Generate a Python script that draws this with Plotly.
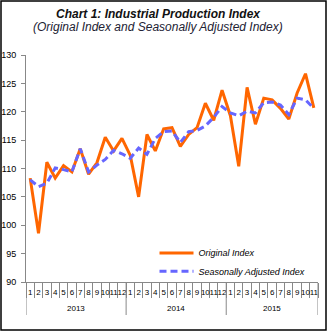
import plotly.graph_objects as go

# Monthly categories, grouped by year
year_names = ["2013", "2014", "2015"]
months_per_year = [12, 12, 11]
years = [y for y, n in zip(year_names, months_per_year) for _ in range(n)]
months = [str(m) for n in months_per_year for m in range(1, n + 1)]
periods = [f"{y}-{m}" for y, m in zip(years, months)]

original_index = [108.3, 98.6, 111.1, 108.3, 110.5, 109.4, 113.5, 109.0, 111.0, 115.5, 113.1, 115.3,
                  112.3, 105.0, 116.0, 113.1, 117.0, 117.2, 113.9, 116.0, 117.2, 121.5, 118.5, 123.8,
                  119.3, 110.4, 124.3, 117.8, 122.4, 122.1, 120.6, 118.7, 123.3, 126.7, 120.7]
adjusted_index = [108.0, 106.8, 107.4, 110.1, 109.8, 109.4, 113.5, 109.4, 110.6, 111.6, 113.2, 112.6,
                  111.8, 113.6, 112.5, 115.3, 116.5, 116.6, 114.6, 116.5, 116.7, 117.5, 119.0, 120.9,
                  119.8, 119.3, 120.1, 119.8, 121.6, 121.7, 121.2, 119.5, 122.4, 122.1, 120.6]

y_ticks = [90, 95, 100, 105, 110, 115, 120, 125, 130]

FONT = "Liberation Sans, Arial, sans-serif"
W, H = 328, 336
ML, MR, MT, MB = 26, 10, 55, 54
pw = W - ML - MR
ph = H - MT - MB


def px_x(px):
    return (px - ML) / pw


def px_y(px):
    return (H - MB - px) / ph


fig = go.Figure()
fig.add_trace(go.Scatter(
    x=periods, y=original_index, name="Original Index", mode="lines",
    line=dict(color="#FF6600", width=3), legend="legend",
))
fig.add_trace(go.Scatter(
    x=periods, y=adjusted_index, name="Seasonally Adjusted Index", mode="lines",
    line=dict(color="#6666FF", width=3, dash="7px,4px"), legend="legend2",
))

# year group labels and dividers below the month labels
start = 0
bounds = [-0.5]
for name, n in zip(year_names, months_per_year):
    fig.add_annotation(text=name, xref="x", yref="paper", x=start + (n - 1) / 2, y=px_y(308),
                       showarrow=False, yanchor="middle", font=dict(family=FONT, size=8, color="black"))
    start += n
    bounds.append(start - 0.5)
for b in bounds:
    fig.add_shape(type="line", xref="x", yref="paper", x0=b, x1=b, y0=0, y1=px_y(315),
                  line=dict(color="#888888", width=1))

# outer chart frame
fig.add_shape(type="rect", xref="paper", yref="paper",
              x0=px_x(1), x1=px_x(326), y0=px_y(330), y1=px_y(1),
              line=dict(color="black", width=1.5), fillcolor="rgba(0,0,0,0)", layer="above")

fig.add_annotation(text="<b><i>Chart 1: Industrial Production Index</i></b>",
                   xref="paper", yref="paper", x=px_x(158), y=px_y(14), xanchor="center", yanchor="middle",
                   showarrow=False, font=dict(family=FONT, size=12, color="#111111"))
fig.add_annotation(text="<i>(Original Index and Seasonally Adjusted Index)</i>",
                   xref="paper", yref="paper", x=px_x(158), y=px_y(27), xanchor="center", yanchor="middle",
                   showarrow=False, font=dict(family=FONT, size=12, color="#222233"))

legend_style = dict(xanchor="left", yanchor="top", bgcolor="rgba(0,0,0,0)",
                    font=dict(family=FONT, size=9, style="italic"), itemwidth=34)
fig.update_layout(
    width=W, height=H,
    margin=dict(l=ML, r=MR, t=MT, b=MB, autoexpand=False),
    paper_bgcolor="white", plot_bgcolor="white",
    font=dict(family=FONT, color="black"),
    showlegend=True,
    legend=dict(x=px_x(154.5), y=px_y(238.4), **legend_style),
    legend2=dict(x=px_x(154.5), y=px_y(256.7), **legend_style),
    xaxis=dict(
        type="category", categoryorder="array", categoryarray=periods,
        tickmode="array", tickvals=periods, ticktext=months, automargin=False,
        showline=True, linecolor="#888888", linewidth=1,
        ticks="outside", ticklen=15, tickcolor="#888888", tickwidth=1, tickson="boundaries",
        tickfont=dict(size=8, family=FONT), tickangle=0, ticklabelstandoff=2,
        showgrid=False, zeroline=False, range=[-0.5, len(periods) - 0.5],
    ),
    yaxis=dict(
        range=[90, 130], tickvals=y_ticks, showline=True, linecolor="#888888", automargin=False,
        linewidth=1, ticks="outside", ticklen=4, tickcolor="#888888", ticklabelstandoff=3,
        tickfont=dict(size=9, family=FONT), showgrid=False, zeroline=False,
    ),
)

fig.write_html("out.html")
